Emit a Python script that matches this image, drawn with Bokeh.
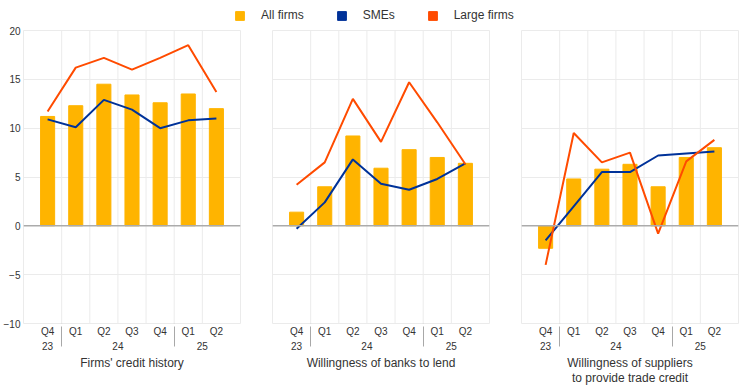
from bokeh.plotting import figure
from bokeh.models import (FactorRange, Range1d, FixedTicker, Span, Legend, LegendItem,
                          ColumnDataSource, Whisker)
from bokeh.layouts import column, row
from bokeh.embed import file_html
from bokeh.resources import INLINE

# ---- data ----
quarters = ["Q4", "Q1", "Q2", "Q3", "Q4", "Q1", "Q2"]
years = ["23", "24", "24", "24", "24", "25", "25"]
panel_titles = ["Firms' credit history",
                "Willingness of banks to lend",
                "Willingness of suppliers\nto provide trade credit"]
series_names = ["All firms", "SMEs", "Large firms"]

all_credit = [11.2, 12.3, 14.5, 13.4, 12.6, 13.5, 12.0]
sme_credit = [10.9, 10.1, 12.9, 11.9, 10.0, 10.8, 11.0]
large_credit = [11.7, 16.2, 17.2, 16.0, 17.2, 18.5, 13.7]

all_banks = [1.4, 4.0, 9.2, 5.9, 7.8, 7.0, 6.4]
sme_banks = [-0.3, 2.4, 6.8, 4.3, 3.7, 4.8, 6.4]
large_banks = [4.2, 6.5, 13.0, 8.6, 14.7, 10.6, 6.3]

all_suppliers = [-2.3, 4.8, 5.8, 6.3, 4.0, 7.0, 8.0]
sme_suppliers = [-1.5, 2.0, 5.5, 5.5, 7.2, 7.4, 7.6]
large_suppliers = [-4.0, 9.5, 6.5, 7.5, -0.8, 6.6, 8.8]

y_ticks = [-10, -5, 0, 5, 10, 15, 20]

YELLOW = "#FFB400"
BLUE = "#003299"
ORANGE = "#FF4B00"
GRID = "#EBEBEB"
SEP = "#A8A8A8"
TEXT = "#333333"
FONT = "Liberation Sans"
PAD = 0.357


def make_panel(title, all_v, sme_v, large_v, width, left, right, show_y):
    factors = list(zip(years, quarters))
    xr = FactorRange(*factors, factor_padding=0, group_padding=0,
                     range_padding=PAD, range_padding_units="absolute")
    p = figure(x_range=xr, y_range=Range1d(y_ticks[0], y_ticks[-1]),
               width=width, height=363, output_backend="svg",
               toolbar_location=None, min_border_left=left,
               min_border_right=right, min_border_top=6,
               min_border_bottom=64)
    bounds = [(y, q, -0.5) for y, q in factors[1:]]
    gsrc = ColumnDataSource(dict(x=bounds, y0=[y_ticks[0]] * len(bounds),
                                 y1=[y_ticks[-1]] * len(bounds)))
    p.segment(x0="x", y0="y0", x1="x", y1="y1", source=gsrc,
              line_color=GRID, line_width=1)
    p.vbar(x=factors, top=all_v, width=0.5, color=YELLOW)
    p.add_layout(Span(location=0, dimension="width", line_color="#ABABAB",
                      line_width=1.5))
    p.line(x=factors, y=sme_v, line_color=BLUE, line_width=2)
    p.line(x=factors, y=large_v, line_color=ORANGE, line_width=2)

    # year-group separators extended below the axis
    seps = [(y, q, -0.5) for i, (y, q) in enumerate(factors) if i > 0 and years[i] != years[i - 1]]
    ssrc = ColumnDataSource(dict(x=seps, lo=[y_ticks[0]] * len(seps),
                                 hi=[y_ticks[0] - 2.55] * len(seps)))
    p.add_layout(Whisker(source=ssrc, base="x", lower="lo", upper="hi",
                         dimension="height", lower_head=None, upper_head=None,
                         line_color=SEP, line_width=1))

    p.outline_line_color = GRID
    p.xgrid.visible = False
    p.ygrid.grid_line_color = GRID
    p.yaxis.ticker = FixedTicker(ticks=y_ticks)
    p.ygrid.ticker = FixedTicker(ticks=y_ticks)
    ya = p.yaxis[0]
    ya.axis_line_color = None
    ya.major_tick_line_color = None
    ya.minor_tick_line_color = None
    ya.major_tick_out = 0
    ya.major_tick_in = 0
    ya.major_label_text_font_size = "10px"
    ya.major_label_text_font = FONT
    ya.major_label_text_color = TEXT
    ya.major_label_standoff = 3
    ya.visible = show_y

    ax = p.xaxis[0]
    ax.axis_line_color = None
    ax.major_tick_line_color = None
    ax.minor_tick_line_color = None
    ax.major_tick_out = 0
    ax.major_tick_in = 0
    ax.major_label_text_font_size = "10px"
    ax.major_label_text_font = FONT
    ax.major_label_text_color = TEXT
    ax.major_label_standoff = 2
    ax.group_text_font_size = "10px"
    ax.group_text_font = FONT
    ax.group_text_font_style = "normal"
    ax.group_text_color = TEXT
    ax.separator_line_color = SEP
    ax.separator_line_width = 1
    ax.axis_label = title
    ax.axis_label_text_font_size = "12px"
    ax.axis_label_text_font = FONT
    ax.axis_label_text_font_style = "normal"
    ax.axis_label_text_color = TEXT
    ax.axis_label_text_line_height = 1.1
    ax.axis_label_standoff = 3
    return p


p1 = make_panel(panel_titles[0], all_credit, sme_credit, large_credit, 256, 23, 16, True)
p2 = make_panel(panel_titles[1], all_banks, sme_banks, large_banks, 249, 16, 16, False)
p3 = make_panel(panel_titles[2], all_suppliers, sme_suppliers, large_suppliers, 239, 16, 6, False)

lf = figure(width=744, height=24, x_range=Range1d(0, 1), y_range=Range1d(0, 1),
            output_backend="svg", toolbar_location=None, min_border=0)
lf.axis.visible = False
lf.grid.visible = False
lf.outline_line_color = None
rs = [lf.vbar(x=[5], top=[5], width=0.5, color=c) for c in (YELLOW, BLUE, ORANGE)]
legend = Legend(items=[LegendItem(label=n, renderers=[r]) for n, r in zip(series_names, rs)],
                orientation="horizontal", location=(234, 2),
                glyph_width=11, glyph_height=11, label_standoff=16, spacing=32,
                padding=0, margin=0, border_line_color=None,
                background_fill_alpha=0, label_height=14,
                label_text_font_size="12px", label_text_font=FONT,
                label_text_color=TEXT)
lf.add_layout(legend)

layout = column(lf, row(p1, p2, p3))
open("out.html", "w").write(file_html(layout, INLINE))
